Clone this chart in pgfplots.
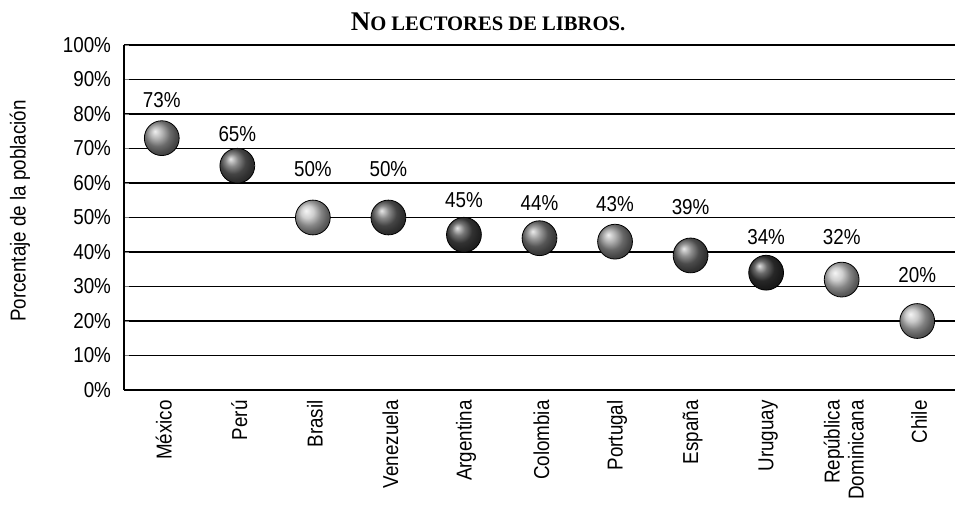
\documentclass[border=0pt]{standalone}
\usepackage{pgfplots}
\pgfplotsset{compat=1.18}
\usepackage{fontspec}
\setmainfont{Liberation Sans}[FakeStretch=0.87]
\newfontfamily\titlefont{Liberation Serif}
\begin{document}
\begin{tikzpicture}
\useasboundingbox (-62pt,-57.5pt) rectangle (415.5pt,195pt);
\begin{axis}[
  at={(0pt,0pt)}, anchor=south west,
  scale only axis, width=415.5pt, height=172.5pt,
  xmin=-0.5, xmax=10.5, ymin=0, ymax=100,
  axis x line*=bottom, axis y line*=left,
  axis line style={line width=0.8pt},
  clip=false,
  font=\fontsize{10.8}{12}\selectfont,
  /pgf/number format/assume math mode=true,
  ytick={0,10,...,100},
  yticklabel={\pgfmathprintnumber{\tick}\%},
  yticklabel style={xshift=-3pt},
  ymajorgrids, major grid style={black, line width=0.8pt},
  major tick length=2.5pt,
  xtick={0,...,10},
  xtick style={draw=none},
  minor xtick={0.5,1.5,...,9.5},
  minor tick length=4pt,
  minor tick style={black, line width=0.7pt},
  xticklabels={México,Perú,Brasil,Venezuela,Argentina,Colombia,Portugal,España,Uruguay,{República\\Dominicana},Chile},
  xticklabel style={rotate=90, anchor=east, align=right, yshift=-1pt, xshift=-4pt, inner sep=1pt},
  only marks, mark=ball, mark size=8.7pt,
  nodes near coords={\pgfmathprintnumber{\pgfplotspointmeta}\%},
  every node near coord/.append style={anchor=center, font=\fontsize{10.8}{12}\selectfont},
]
\addplot[mark=ball, mark options={ball color=black!40}, every node near coord/.append style={yshift=19pt}] coordinates {(0,73)};
\addplot[mark=ball, mark options={ball color=black!62}, every node near coord/.append style={yshift=16pt}] coordinates {(1,65)};
\addplot[mark=ball, mark options={ball color=black!25}, every node near coord/.append style={yshift=24pt}] coordinates {(2,50)};
\addplot[mark=ball, mark options={ball color=black!62}, every node near coord/.append style={yshift=24pt}] coordinates {(3,50)};
\addplot[mark=ball, mark options={ball color=black!72}, every node near coord/.append style={yshift=17.5pt}] coordinates {(4,45)};
\addplot[mark=ball, mark options={ball color=black!52}, every node near coord/.append style={yshift=17.5pt}] coordinates {(5,44)};
\addplot[mark=ball, mark options={ball color=black!42}, every node near coord/.append style={yshift=19pt}] coordinates {(6,43)};
\addplot[mark=ball, mark options={ball color=black!58}, every node near coord/.append style={yshift=24pt}] coordinates {(7,39)};
\addplot[mark=ball, mark options={ball color=black!78}, every node near coord/.append style={yshift=18pt}] coordinates {(8,34)};
\addplot[mark=ball, mark options={ball color=black!25}, every node near coord/.append style={yshift=21.5pt}] coordinates {(9,32)};
\addplot[mark=ball, mark options={ball color=black!28}, every node near coord/.append style={yshift=23pt}] coordinates {(10,20)};
\end{axis}
\node[rotate=90, font=\fontsize{10.8}{12}\selectfont] at (-52pt,89.5pt) {Porcentaje de la población};
\node[font=\titlefont\bfseries] at (182pt,184pt) {{\fontsize{13.5}{14}\selectfont N}{\fontsize{10.3}{12}\selectfont O LECTORES DE LIBROS.}};
\end{tikzpicture}
\end{document}
